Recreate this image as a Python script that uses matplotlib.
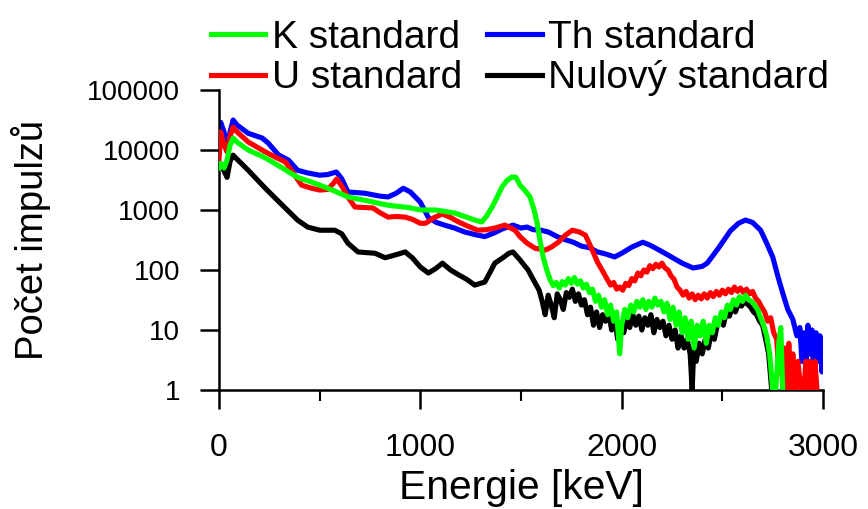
import numpy as np
import matplotlib
matplotlib.use("Agg")
import matplotlib.pyplot as plt
from matplotlib.ticker import FixedLocator, NullFormatter, LogLocator

plt.rcParams['font.family'] = ['Liberation Sans', 'DejaVu Sans']

# spektra (energie v keV, počet impulzů)
th_energy = [0, 8, 25, 40, 55, 70, 90, 145, 215, 245, 295, 345, 390, 440, 500, 540, 583, 610,
             640, 725, 800, 840, 880, 915, 950, 1000, 1040, 1080, 1120, 1170, 1220, 1270, 1320,
             1370, 1405, 1460, 1500, 1530, 1560, 1600, 1635, 1680, 1720, 1760, 1800, 1840, 1880,
             1920, 1965, 2000, 2050, 2105, 2140, 2170, 2240, 2300, 2355, 2400, 2425, 2480, 2540,
             2580, 2615, 2650, 2690, 2720, 2750, 2775, 2800, 2825, 2850, 2870, 2885, 2895, 2905,
             2915, 2925, 2935, 2945, 2955, 2965, 2975, 2985, 2995, 3000]
th_counts = [9000, 29000, 20000, 11000, 20000, 31600, 26000, 19000, 15800, 13000, 8300, 6800, 4600,
             4150, 3800, 3900, 4300, 3300, 2000, 1900, 1700, 1650, 1900, 2300, 2000, 1350, 750, 620,
             560, 500, 430, 390, 360, 420, 480, 560, 500, 520, 470, 460, 430, 360, 320, 290, 250,
             235, 200, 185, 165, 190, 240, 290, 260, 230, 170, 130, 108, 115, 130, 230, 450, 600,
             680, 620, 460, 280, 165, 80, 41, 22, 15, 8, 11, 3, 9, 2, 12, 4, 10, 1, 9, 3, 8, 2, 5]

u_energy = [0, 8, 25, 40, 55, 70, 90, 145, 230, 280, 330, 365, 410, 460, 500, 540, 565, 585, 610,
            640, 675, 720, 765, 800, 840, 880, 925, 960, 1000, 1025, 1070, 1110, 1150, 1190, 1240,
            1285, 1330, 1370, 1420, 1470, 1495, 1530, 1570, 1620, 1650, 1685, 1720, 1755, 1790,
            1820, 1850, 1880, 1910,
            1930, 1945, 1960, 1975, 1990, 2005, 2020, 2035, 2050, 2065, 2080, 2095, 2110, 2125,
            2140, 2155, 2170, 2185, 2200, 2215, 2230, 2245, 2260, 2275, 2290, 2305, 2320, 2335,
            2350, 2365, 2380, 2395, 2410, 2425, 2440, 2455, 2470, 2485, 2500, 2515, 2530, 2545,
            2560, 2575, 2590, 2605, 2620, 2635, 2650, 2665, 2680, 2695, 2710, 2725, 2740, 2755,
            2770, 2780, 2790, 2800, 2810, 2820, 2830, 2840, 2850, 2860, 2875, 2890, 2905, 2915,
            2925, 2935, 2945, 2960, 2970]
u_counts = [7000, 20000, 12000, 9300, 17000, 24000, 20000, 13600, 9300, 7600, 6300, 4300, 2600,
            2300, 2150, 2200, 2700, 3300, 2500, 1650, 1120, 1100, 1080, 900, 760, 780, 760, 700,
            600, 600, 750, 860, 750, 630, 530, 460, 470, 500, 560, 460, 360, 280, 230, 215, 240,
            290, 380, 460, 430, 380, 230, 135, 90,
            68, 56, 62, 48, 52, 46, 60, 55, 72, 66, 89, 80, 100, 92, 118, 105, 125, 112, 130, 108,
            100, 80, 70, 52, 46, 38, 44, 34, 40, 32, 38, 33, 40, 34, 42, 36, 44, 38, 46, 40, 48,
            42, 52, 44, 50, 42, 48, 40, 44, 34, 30, 24, 20, 14, 16, 9, 7, 2, 6, 1, 5, 1, 6, 1, 4,
            1, 3, 1, 1, 3, 1, 3, 1, 3, 1]

k_energy = [0, 8, 25, 40, 55, 70, 90, 145, 230, 315, 390, 450, 500, 570, 640, 725, 790, 840, 940,
            1000, 1075, 1120, 1170, 1220, 1270, 1305, 1330, 1355, 1380, 1405, 1430, 1455, 1475,
            1495, 1520, 1545, 1565, 1580, 1595, 1610, 1630,
            1645, 1660, 1675, 1690, 1705, 1720, 1735, 1750, 1765, 1780, 1795, 1810, 1825, 1840,
            1855, 1870, 1885, 1900, 1915, 1930, 1945, 1960, 1975, 1990, 2000, 2015, 2030, 2045,
            2060, 2075, 2090, 2105, 2120, 2135, 2150, 2165, 2180, 2195, 2210, 2225, 2240, 2255,
            2270, 2285, 2300, 2315, 2330, 2345, 2360, 2375, 2390, 2405, 2420, 2435, 2450, 2465,
            2480, 2495, 2510, 2525, 2540, 2555, 2570, 2585, 2600, 2615, 2630, 2645, 2660, 2675,
            2690, 2705, 2720, 2735, 2750, 2765, 2780, 2790, 2800]
k_counts = [5000, 6000, 5000, 6800, 12000, 15800, 13500, 10000, 7400, 5000, 3500, 3000, 2600, 2100,
            1650, 1450, 1300, 1200, 1100, 1000, 1000, 950, 890, 780, 680, 630, 800, 1100, 1600,
            2400, 3100, 3550, 3500, 2600, 2100, 1650, 1000, 600, 300, 165, 95,
            68, 55, 62, 50, 64, 56, 72, 60, 75, 58, 66, 50, 58, 42, 48, 30, 38, 24, 32, 18, 26, 14,
            20, 4, 12, 22, 16, 26, 20, 30, 24, 32, 22, 30, 24, 34, 26, 30, 20, 28, 15, 24, 12, 20,
            9, 16, 7, 14, 5, 12, 8, 14, 6, 12, 9, 16, 12, 20, 16, 26, 22, 32, 26, 36, 30, 38, 32,
            30, 26, 22, 16, 12, 8, 4, 1, 1, 6, 11, 1]

bg_energy = [0, 8, 25, 40, 55, 70, 90, 145, 230, 315, 390, 440, 500, 575, 610, 640, 690, 730, 775,
             825, 880, 925, 960, 1000, 1040, 1075, 1110, 1150, 1190, 1230, 1270, 1320, 1345, 1370,
             1410, 1440, 1460, 1495, 1535, 1560,
             1590, 1605, 1620, 1635, 1650, 1665, 1680, 1695, 1710, 1725, 1740, 1755, 1770, 1785,
             1800, 1815, 1830, 1845, 1860, 1875, 1890, 1905, 1920, 1935, 1950, 1965, 1980, 1995,
             2010, 2025, 2040, 2055, 2070, 2085, 2100, 2115, 2130, 2145, 2160, 2175, 2190, 2205,
             2220, 2235, 2250, 2265, 2280, 2295, 2310, 2325, 2340, 2350, 2358, 2370, 2385, 2400,
             2415, 2430, 2445, 2460, 2475, 2490, 2505, 2520, 2535, 2550, 2565, 2580, 2595, 2610,
             2625, 2640, 2655, 2670, 2685, 2700, 2715, 2730, 2745]
bg_counts = [5000, 6000, 4500, 3500, 6500, 8200, 7000, 4600, 2300, 1200, 680, 520, 460, 460, 400,
             280, 200, 195, 190, 160, 180, 200, 160, 112, 89, 105, 130, 100, 83, 70, 56, 63, 90, 130,
             160, 190, 200, 147, 100, 70,
             46, 30, 18, 38, 26, 16, 40, 32, 22, 42, 35, 48, 30, 40, 26, 32, 18, 24, 12, 20, 11, 18,
             14, 20, 10, 16, 7, 12, 9, 16, 11, 18, 12, 17, 10, 16, 12, 18, 9, 15, 11, 14, 8, 12, 7,
             10, 5, 8, 5, 7, 4, 1, 5, 3, 6, 4, 7, 5, 9, 7, 12, 15, 12, 20, 17, 24, 20, 28, 25, 30,
             27, 24, 20, 18, 14, 12, 7, 4, 1]

fig = plt.figure(figsize=(8.68, 5.09), dpi=100)
ax = fig.add_axes([0.2523, 0.2338, 0.6959, 0.5894])

lw = 3.7
l_th, = ax.plot(th_energy, th_counts, color='#0000FF', lw=lw, zorder=2, label='Th standard')
l_u, = ax.plot(u_energy, u_counts, color='#FF0000', lw=lw, zorder=3, label='U standard')
l_bg, = ax.plot(bg_energy, bg_counts, color='black', lw=lw, zorder=4, label='Nulový standard')
l_k, = ax.plot(k_energy, k_counts, color='#00FF00', lw=lw, zorder=5, label='K standard')

ax.set_yscale('log')
ax.set_xlim(0, 3000)
ax.set_ylim(1, 100000)

ax.xaxis.set_major_locator(FixedLocator([0, 1000, 2000, 3000]))
ax.xaxis.set_minor_locator(FixedLocator([500, 1500, 2500]))
ax.set_xticklabels(['0', '1000', '2000', '3000'])
ax.yaxis.set_major_locator(FixedLocator([1, 10, 100, 1000, 10000, 100000]))
ax.set_yticklabels(['1', '10', '100', '1000', '10000', '100000'])
ax.yaxis.set_minor_locator(LogLocator(base=10, subs=np.arange(2, 10)))
ax.yaxis.set_minor_formatter(NullFormatter())

for side in ['top', 'right']:
    ax.spines[side].set_visible(False)
for side in ['left', 'bottom']:
    ax.spines[side].set_linewidth(1.8)

ax.tick_params(which='major', direction='out', length=14, width=1.8)
ax.tick_params(axis='x', which='major', labelsize=23, pad=17)
ax.tick_params(axis='y', which='major', labelsize=20, pad=14)
ax.tick_params(which='minor', direction='out', length=8, width=1.5)

ax.set_xlabel('Energie [keV]', fontsize=29.3, labelpad=4)
ax.set_ylabel('Počet impulzů', fontsize=27.5, labelpad=26)

fig.legend(handles=[l_k, l_u, l_th, l_bg], ncol=2, loc='upper left',
           bbox_to_anchor=(0.243, 0.961), frameon=False, fontsize=28,
           handlelength=1.4, handletextpad=0.16, columnspacing=0.65,
           labelspacing=0.11, borderpad=0.0, borderaxespad=0.0)

fig.savefig('out.png', dpi=100)
